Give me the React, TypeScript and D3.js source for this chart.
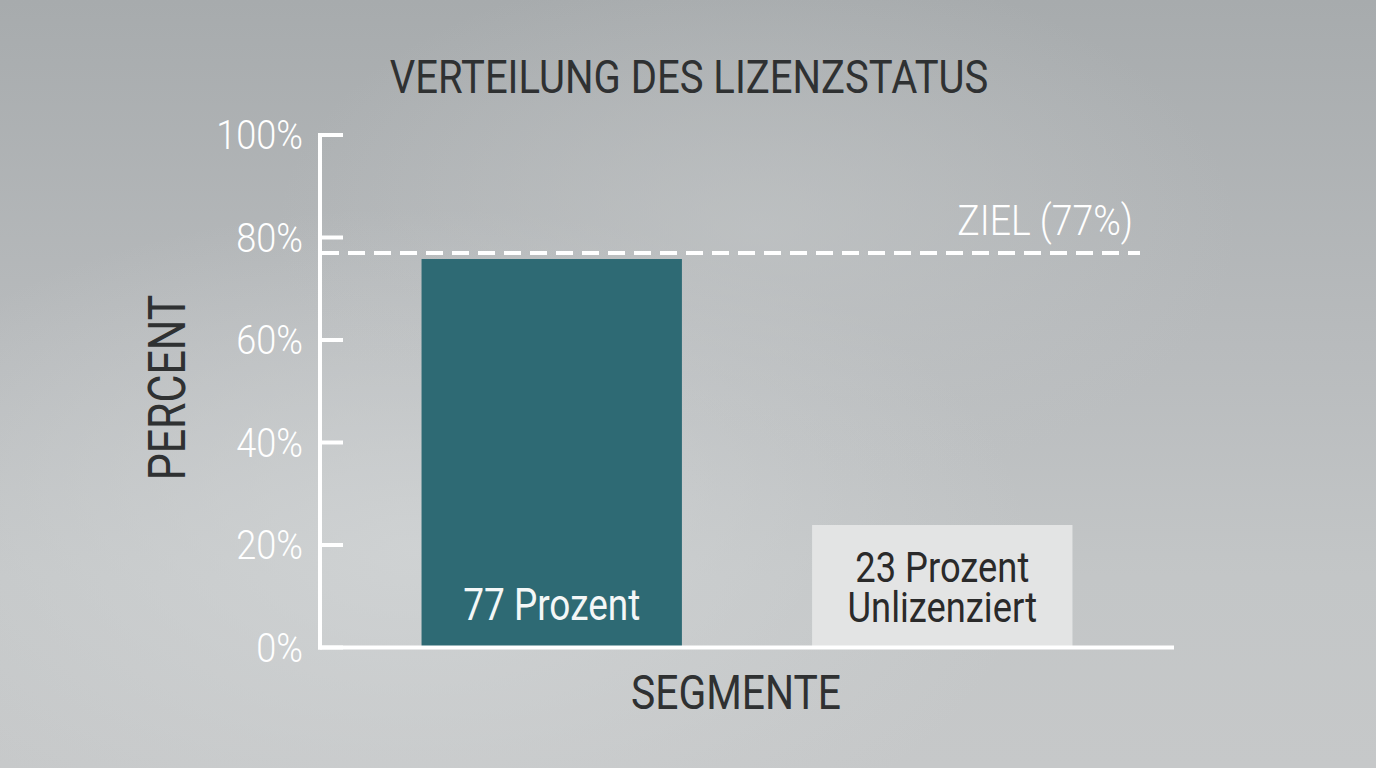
import React from "react";
import * as d3 from "d3";

const segments = ["Lizenziert", "Unlizenziert"];
const barValues = [75.8, 23.9];
const barLabels = [["77 Prozent"], ["23 Prozent", "Unlizenziert"]];
const yTicks = [0, 20, 40, 60, 80, 100];
const targetValue = 77;
const targetLabel = "ZIEL (77%)";
const titleText = "VERTEILUNG DES LIZENZSTATUS";
const yTitle = "PERCENT";
const xTitle = "SEGMENTE";

const W = 1376;
const H = 768;
const FONT = "Roboto, 'Noto Sans', sans-serif";

type CTProps = {
  x: number;
  y: number;
  sx: number;
  size: number;
  fill: string;
  anchor?: "start" | "middle" | "end";
  weight?: number;
  rotate?: number;
  children: React.ReactNode;
};

function CText({ x, y, sx, size, fill, anchor = "middle", weight = 400, rotate = 0, children }: CTProps) {
  return (
    <text
      transform={`translate(${x},${y}) rotate(${rotate}) scale(${sx},1)`}
      textAnchor={anchor}
      fontFamily={FONT}
      fontSize={size}
      fontWeight={weight}
      fill={fill}
    >
      {children}
    </text>
  );
}

export default function App() {
  const x0 = 320, x1 = 1174, yTop = 135, yBot = 647.5;
  const y = d3.scaleLinear().domain([0, 100]).range([yBot, yTop]);
  const x = d3.scaleBand().domain(segments).range([x0, x1]).paddingInner(1 / 3).paddingOuter(0.26);
  const barFill = ["#2e6a74", "#e3e4e4"];
  const labelFill = ["#f4f7f7", "#2a2a2a"];
  const dark = "#2f3132";

  return (
    <svg width={W} height={H} style={{ position: "fixed", left: 0, top: 0 }}>
      <defs>
        <linearGradient id="bg" x1="0" y1="0" x2="0" y2="1">
          <stop offset="0" stopColor="#a7abad" />
          <stop offset="0.45" stopColor="#b8bbbd" />
          <stop offset="0.75" stopColor="#c3c6c7" />
          <stop offset="1" stopColor="#c6c8c9" />
        </linearGradient>
        <radialGradient id="glow" cx="0.3" cy="0.72" r="0.45">
          <stop offset="0" stopColor="#d2d5d6" stopOpacity="0.8" />
          <stop offset="1" stopColor="#d2d5d6" stopOpacity="0" />
        </radialGradient>
        <radialGradient id="glow2" cx="0.55" cy="0.3" r="0.35">
          <stop offset="0" stopColor="#c4c7c8" stopOpacity="0.6" />
          <stop offset="1" stopColor="#c4c7c8" stopOpacity="0" />
        </radialGradient>
      </defs>
      <rect x={0} y={0} width={W} height={H} fill="url(#bg)" />
      <rect x={0} y={0} width={W} height={H} fill="url(#glow)" />
      <rect x={0} y={0} width={W} height={H} fill="url(#glow2)" />

      <CText x={689} y={93} sx={0.87} size={46} fill={dark}>
        {titleText}
      </CText>

      {segments.map((s, i) => (
        <rect key={s} x={x(s)} y={y(barValues[i])} width={x.bandwidth()} height={yBot - y(barValues[i])} fill={barFill[i]} />
      ))}

      {segments.map((s, i) => {
        const cx = (x(s) as number) + x.bandwidth() / 2;
        const lines = barLabels[i];
        const baseY = i === 0 ? 620 : 582;
        const size = i === 0 ? 44 : 42;
        const sx = i === 0 ? 0.84 : 0.865;
        return (
          <g key={s}>
            {lines.map((l, j) => (
              <CText key={j} x={cx} y={baseY + j * 40} sx={sx} size={size} fill={labelFill[i]}>
                {l}
              </CText>
            ))}
          </g>
        );
      })}

      <line x1={322} x2={1140} y1={y(targetValue)} y2={y(targetValue)} stroke="#ffffff" strokeWidth={4} strokeDasharray="17 9" />
      <CText x={1133} y={235} sx={0.89} size={42} weight={300} anchor="end" fill="#ffffff">
        {targetLabel}
      </CText>

      <line x1={x0} x2={x0} y1={yTop - 2} y2={yBot + 2} stroke="#ffffff" strokeWidth={4} />
      <line x1={x0 - 2} x2={x1} y1={yBot} y2={yBot} stroke="#ffffff" strokeWidth={4} />
      {yTicks.map((t) => (
        <g key={t}>
          <line x1={x0} x2={x0 + 23} y1={y(t)} y2={y(t)} stroke="#ffffff" strokeWidth={4} />
          <CText x={303} y={y(t) + 14} sx={0.88} size={41} weight={300} anchor="end" fill="#ffffff">
            {t}%
          </CText>
        </g>
      ))}

      <CText x={185} y={387.5} rotate={-90} sx={0.825} size={52} fill={dark}>
        {yTitle}
      </CText>
      <CText x={736} y={709} sx={0.85} size={48} fill={dark}>
        {xTitle}
      </CText>
    </svg>
  );
}
